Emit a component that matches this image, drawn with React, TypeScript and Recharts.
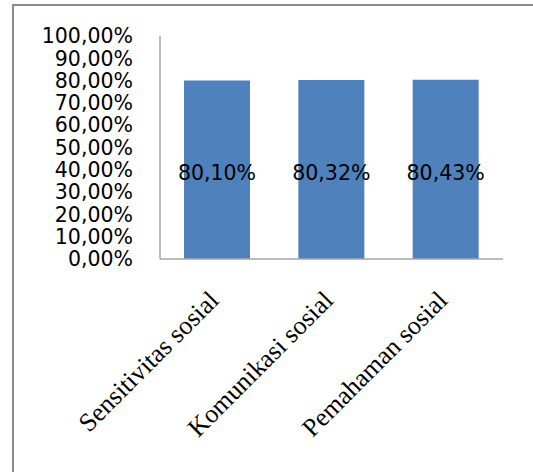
import { Bar, BarChart, LabelList, XAxis, YAxis } from 'recharts';

const categories = ['Sensitivitas sosial', 'Komunikasi sosial', 'Pemahaman sosial'];
const percentValues = [80.1, 80.32, 80.43];
const yTicks = [0, 10, 20, 30, 40, 50, 60, 70, 80, 90, 100];

const data = categories.map((name, i) => ({ name, value: percentValues[i] }));

const fmtPct = (v: number) => `${v.toFixed(2).replace('.', ',')}%`;

function CategoryTick(props: any) {
  const { x, y, payload } = props;
  // rotated category names, end of text sits just under the bar
  return (
    <g transform={`translate(${x + 3},${y + 35})`}>
      <text
        transform="rotate(-45)"
        textAnchor="end"
        fontFamily="'Liberation Serif', 'Times New Roman', serif"
        fontSize={26}
        fill="#000"
      >
        {payload.value}
      </text>
    </g>
  );
}

export default function App() {
  return (
    <div style={{ position: 'absolute', left: 0, top: 0, width: 533, height: 472, background: '#fff' }}>
      <div
        style={{
          position: 'absolute',
          left: 12,
          top: 4,
          right: -4,
          bottom: -4,
          borderLeft: '2px solid #8c8c8c',
          borderTop: '2px solid #8c8c8c',
        }}
      />
      <BarChart
        width={533}
        height={472}
        data={data}
        margin={{ top: 36, right: 30, bottom: 0, left: 0 }}
        barCategoryGap="21%"
        style={{ position: 'absolute', left: 0, top: 0 }}
      >
        <XAxis
          dataKey="name"
          axisLine={{ stroke: '#a6a6a6', strokeWidth: 1.5 }}
          tickLine={false}
          tick={<CategoryTick />}
          interval={0}
          height={213}
        />
        <YAxis
          domain={[0, 100]}
          ticks={yTicks}
          interval={0}
          width={160}
          axisLine={{ stroke: '#a6a6a6', strokeWidth: 1.5 }}
          tickLine={false}
          tickSize={0}
          tickMargin={27}
          tickFormatter={fmtPct}
          tick={{ fill: '#000', fontSize: 20.5, fontFamily: "'DejaVu Sans', sans-serif" }}
        />
        <Bar dataKey="value" fill="#4f81bd" isAnimationActive={false}>
          <LabelList
            dataKey="value"
            position="center"
            offset={0}
            dy={3}
            formatter={(v: any) => fmtPct(Number(v))}
            fill="#000"
            fontSize={20.5}
            fontFamily="'DejaVu Sans', sans-serif"
          />
        </Bar>
      </BarChart>
    </div>
  );
}
